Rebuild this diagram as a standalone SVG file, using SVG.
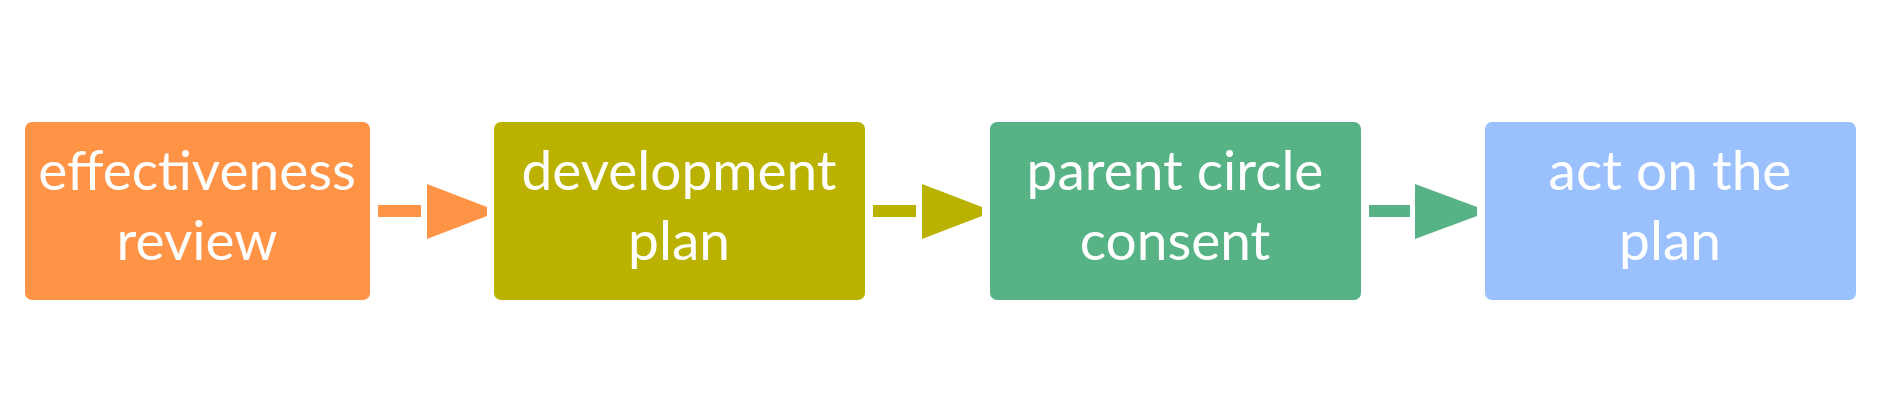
<svg xmlns="http://www.w3.org/2000/svg" width="1886" height="408" viewBox="0 0 1886 408">
<style>
.box{stroke:none}
.lbl{font-family:Lato,"Liberation Sans",sans-serif;font-size:55px;font-weight:400;fill:#ffffff;text-anchor:middle}
</style>
<rect width="1886" height="408" fill="#ffffff"/>
<g id="connectors">
<g fill="#FF9446"><rect x="378" y="205" width="43" height="12"/><polygon points="427,184 487,207 487,216 427,239"/></g>
<g fill="#BBB200"><rect x="873" y="205" width="43" height="12"/><polygon points="922,184 982,207 982,216 922,239"/></g>
<g fill="#57B385"><rect x="1369" y="205" width="41" height="12"/><polygon points="1415,184 1477,207 1477,216 1415,239"/></g>
</g>
<g id="n1"><rect class="box" x="25" y="122" width="345" height="178" rx="7" fill="#FF9446"/><text class="lbl" x="197" y="190">effectiveness</text><text class="lbl" x="197" y="260">review</text></g>
<g id="n2"><rect class="box" x="494" y="122" width="371" height="178" rx="7" fill="#BBB200"/><text class="lbl" x="679" y="190">development</text><text class="lbl" x="679" y="260">plan</text></g>
<g id="n3"><rect class="box" x="990" y="122" width="371" height="178" rx="7" fill="#57B385"/><text class="lbl" x="1175" y="190">parent circle</text><text class="lbl" x="1175" y="260">consent</text></g>
<g id="n4"><rect class="box" x="1485" y="122" width="371" height="178" rx="7" fill="#9BC0FE"/><text class="lbl" x="1670" y="190">act on the</text><text class="lbl" x="1670" y="260">plan</text></g>
</svg>
